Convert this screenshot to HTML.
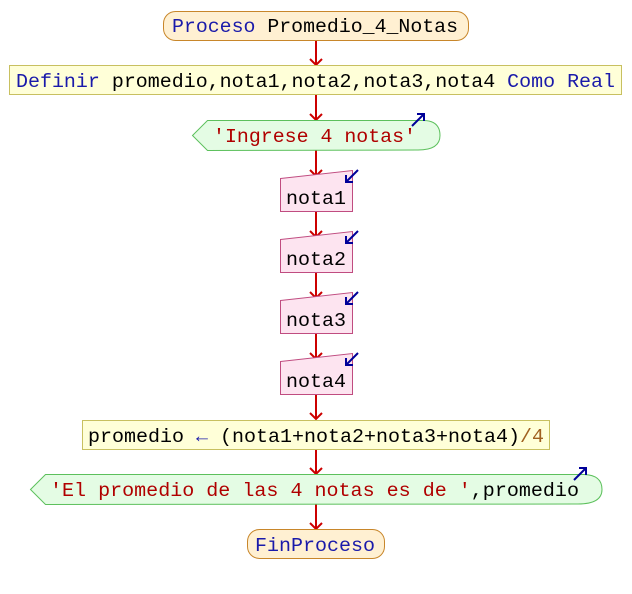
<!DOCTYPE html>
<html><head><meta charset="utf-8"><style>
html,body{margin:0;padding:0;background:#fff;}
svg{display:block;}
text{font-family:"Liberation Mono",monospace;font-size:19.5px;}
</style></head><body>
<svg width="632" height="594" viewBox="0 0 632 594" xmlns="http://www.w3.org/2000/svg">
<defs>
<g id="ah"><path d="M-6,-6 L0,0 L6,-6" fill="none" stroke="#cc0000" stroke-width="2"/></g>
</defs>
<g stroke="#cc0000" stroke-width="2">
<line x1="316" y1="40" x2="316" y2="65"/>
<line x1="316" y1="95" x2="316" y2="120"/>
<line x1="316" y1="150" x2="316" y2="177"/>
<line x1="316" y1="211" x2="316" y2="238"/>
<line x1="316" y1="272" x2="316" y2="299"/>
<line x1="316" y1="333" x2="316" y2="360"/>
<line x1="316" y1="394" x2="316" y2="419"/>
<line x1="316" y1="449" x2="316" y2="474"/>
<line x1="316" y1="504" x2="316" y2="529"/>
</g>
<use href="#ah" x="316" y="65"/>
<use href="#ah" x="316" y="120"/>
<use href="#ah" x="316" y="176"/>
<use href="#ah" x="316" y="237"/>
<use href="#ah" x="316" y="298"/>
<use href="#ah" x="316" y="359"/>
<use href="#ah" x="316" y="419"/>
<use href="#ah" x="316" y="474"/>
<use href="#ah" x="316" y="529"/>

<rect x="163.5" y="11.5" width="305" height="29" rx="12" fill="#fff0d2" stroke="#c8862a"/>
<text x="172" y="32" textLength="286" lengthAdjust="spacingAndGlyphs"><tspan fill="#1a1aaa">Proceso</tspan> <tspan fill="#000">Promedio_4_Notas</tspan></text>

<rect x="9.5" y="65.5" width="612" height="29" fill="#ffffd8" stroke="#c8c060"/>
<text x="16" y="87" textLength="599" lengthAdjust="spacingAndGlyphs"><tspan fill="#1a1aaa">Definir</tspan> <tspan fill="#000">promedio,nota1,nota2,nota3,nota4</tspan> <tspan fill="#1a1aaa">Como Real</tspan></text>

<path d="M192.5,135.5 L207.5,120.5 L424,120.5 Q440,121 440,135.5 Q440,150 418,150 L207.5,150.5 Z" fill="#e4fce4" stroke="#5cc05c"/>
<text x="213" y="142" fill="#b00000" textLength="203" lengthAdjust="spacingAndGlyphs">'Ingrese 4 notas'</text>
<path d="M412,126 L424,114 M417,114 L424,114 L424,121" stroke="#000099" stroke-width="2" fill="none"/>

<g fill="#fde4f0" stroke="#c04c80">
<path d="M280.5,178.5 L352.5,170.5 L352.5,211.5 L280.5,211.5 Z"/>
<path d="M280.5,239.5 L352.5,231.5 L352.5,272.5 L280.5,272.5 Z"/>
<path d="M280.5,300.5 L352.5,292.5 L352.5,333.5 L280.5,333.5 Z"/>
<path d="M280.5,361.5 L352.5,353.5 L352.5,394.5 L280.5,394.5 Z"/>
</g>
<g fill="#000">
<text x="286" y="204" textLength="60" lengthAdjust="spacingAndGlyphs">nota1</text>
<text x="286" y="265" textLength="60" lengthAdjust="spacingAndGlyphs">nota2</text>
<text x="286" y="326" textLength="60" lengthAdjust="spacingAndGlyphs">nota3</text>
<text x="286" y="387" textLength="60" lengthAdjust="spacingAndGlyphs">nota4</text>
</g>
<g stroke="#000099" stroke-width="2" fill="none">
<path d="M358,170 L346,182 M346,175 L346,182 L353,182"/>
<path d="M358,231 L346,243 M346,236 L346,243 L353,243"/>
<path d="M358,292 L346,304 M346,297 L346,304 L353,304"/>
<path d="M358,353 L346,365 M346,358 L346,365 L353,365"/>
</g>

<rect x="82.5" y="420.5" width="467" height="29" fill="#ffffd8" stroke="#c8c060"/>
<text x="88" y="442" textLength="456" lengthAdjust="spacingAndGlyphs"><tspan fill="#000">promedio </tspan><tspan fill="#1a1aaa">←</tspan><tspan fill="#000"> (nota1+nota2+nota3+nota4)</tspan><tspan fill="#a06020">/4</tspan></text>

<path d="M30.5,489.5 L45.5,474.5 L584,474.5 Q602,475 602,489.5 Q602,504 578,504 L45.5,504.5 Z" fill="#e4fce4" stroke="#5cc05c"/>
<text x="50" y="496" textLength="529" lengthAdjust="spacingAndGlyphs"><tspan fill="#b00000">'El promedio de las 4 notas es de '</tspan><tspan fill="#000">,promedio</tspan></text>
<path d="M574,480 L586,468 M579,468 L586,468 L586,475" stroke="#000099" stroke-width="2" fill="none"/>

<rect x="247.5" y="529.5" width="137" height="29" rx="12" fill="#fff0d2" stroke="#c8862a"/>
<text x="255" y="551" fill="#1a1aaa" textLength="120" lengthAdjust="spacingAndGlyphs">FinProceso</text>
</svg>
</body></html>
